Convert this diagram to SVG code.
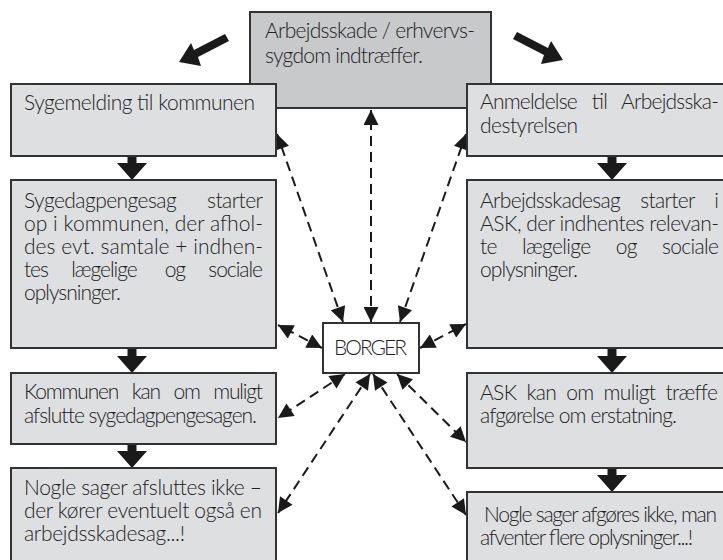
<svg xmlns="http://www.w3.org/2000/svg" width="723" height="560" viewBox="0 0 723 560">
<defs>
<style>
.box{fill:#dedfe1;stroke:#333;stroke-width:2}
.top{fill:#c8c9cb;stroke:#333;stroke-width:2}
.borger{fill:#fff;stroke:#333;stroke-width:2}
text{font-family:Lato,Roboto,"Liberation Sans",sans-serif;font-weight:300;font-size:21px;fill:#222;white-space:pre}
.dash{stroke:#1a1a1a;stroke-width:2;stroke-dasharray:10 6;fill:none;marker-start:url(#ah);marker-end:url(#ah)}
.flow{fill:#1a1a1a}
</style>
<marker id="ah" viewBox="0 0 10 10" refX="10" refY="5" markerUnits="userSpaceOnUse" markerWidth="16" markerHeight="15" orient="auto-start-reverse">
<path d="M0,0 L10,5 L0,10 z" fill="#1a1a1a"/>
</marker>
</defs>
<rect width="723" height="560" fill="#fff"/>

<g id="connectors">
<line class="dash" x1="371" y1="322" x2="371" y2="110"/>
<line class="dash" x1="343" y1="322" x2="277" y2="134"/>
<line class="dash" x1="400" y1="322" x2="466" y2="134"/>
<line class="dash" x1="322" y1="348" x2="278" y2="325"/>
<line class="dash" x1="420" y1="348" x2="466" y2="324"/>
<line class="dash" x1="345" y1="374" x2="278" y2="418"/>
<line class="dash" x1="370" y1="374" x2="278" y2="513"/>
<line class="dash" x1="373" y1="374" x2="466" y2="515"/>
<line class="dash" x1="397" y1="374" x2="466" y2="442"/>
<g class="flow">
<rect x="127.5" y="156" width="9" height="9"/><polygon points="117,163 147,163 132,180"/>
<rect x="127.5" y="348" width="9" height="9"/><polygon points="117,356 147,356 132,373"/>
<rect x="127.5" y="444" width="9" height="9"/><polygon points="117,451 147,451 132,468"/>
<rect x="607.5" y="156" width="9" height="9"/><polygon points="597,163 627,163 612,180"/>
<rect x="607.5" y="348" width="9" height="9"/><polygon points="597,356 627,356 612,373"/>
<rect x="607.5" y="468" width="9" height="9"/><polygon points="597,475 627,475 612,492"/>
<polygon points="225,34 229,41 198,57 201,66 179,62 191,43 194,50"/>
<polygon points="517,32 513,39 544,55 541,64 563,60 551,41 548,48"/>
</g>
</g>

<g id="n-top">
<rect class="top" x="250" y="12" width="241" height="96"/>
<text x="265" y="38" textLength="210" lengthAdjust="spacing">Arbejdsskade / erhvervs-</text>
<text x="265" y="63" textLength="158" lengthAdjust="spacing">sygdom indtræffer.</text>
</g>

<g id="n-l1">
<rect class="box" x="11" y="84" width="265" height="72"/>
<text x="24" y="110" textLength="231" lengthAdjust="spacing">Sygemelding til kommunen</text>
</g>

<g id="n-l2">
<rect class="box" x="11" y="180" width="265" height="168"/>
<text x="24" y="208" textLength="239" lengthAdjust="spacing">Sygedagpengesag      starter</text>
<text x="24" y="231" textLength="239" lengthAdjust="spacing">op i kommunen, der afhol-</text>
<text x="24" y="254" textLength="239" lengthAdjust="spacing">des evt. samtale + indhen-</text>
<text x="24" y="277" textLength="239" lengthAdjust="spacing">tes     lægelige      og     sociale</text>
<text x="24" y="300" textLength="97" lengthAdjust="spacing">oplysninger.</text>
</g>

<g id="n-l3">
<rect class="box" x="11" y="373" width="265" height="71"/>
<text x="24" y="399" textLength="239" lengthAdjust="spacing">Kommunen   kan   om   muligt</text>
<text x="24" y="423" textLength="233" lengthAdjust="spacing">afslutte sygedagpengesagen.</text>
</g>

<g id="n-l4">
<rect class="box" x="11" y="468" width="265" height="100"/>
<text x="24" y="495" textLength="238" lengthAdjust="spacing">Nogle sager afsluttes ikke –</text>
<text x="24" y="518" textLength="238" lengthAdjust="spacing">der kører eventuelt også en</text>
<text x="24" y="541" textLength="161" lengthAdjust="spacing">arbejdsskadesag...!</text>
</g>

<g id="n-r1">
<rect class="box" x="467" y="84" width="270" height="72"/>
<text x="480" y="109" textLength="239" lengthAdjust="spacing">Anmeldelse   til   Arbejdsska-</text>
<text x="480" y="133" textLength="98" lengthAdjust="spacing">destyrelsen</text>
</g>

<g id="n-r2">
<rect class="box" x="467" y="180" width="270" height="168"/>
<text x="480" y="208" textLength="239" lengthAdjust="spacing">Arbejdsskadesag    starter    i</text>
<text x="480" y="231" textLength="239" lengthAdjust="spacing">ASK, der indhentes relevan-</text>
<text x="480" y="254" textLength="239" lengthAdjust="spacing">te     lægelige     og     sociale</text>
<text x="480" y="277" textLength="98" lengthAdjust="spacing">oplysninger.</text>
</g>

<g id="n-r3">
<rect class="box" x="467" y="373" width="270" height="95"/>
<text x="480" y="400" textLength="238" lengthAdjust="spacing">ASK  kan  om  muligt  træffe</text>
<text x="480" y="423" textLength="197" lengthAdjust="spacing">afgørelse om erstatning.</text>
</g>

<g id="n-r4">
<rect class="box" x="467" y="492" width="270" height="80"/>
<text x="484" y="522" textLength="233" lengthAdjust="spacing">Nogle sager afgøres ikke, man</text>
<text x="480" y="545" textLength="213" lengthAdjust="spacing">afventer flere oplysninger...!</text>
</g>

<g id="n-borger">
<rect class="borger" x="323" y="323" width="96" height="50"/>
<text x="334" y="355" textLength="73" lengthAdjust="spacing">BORGER</text>
</g>
</svg>
